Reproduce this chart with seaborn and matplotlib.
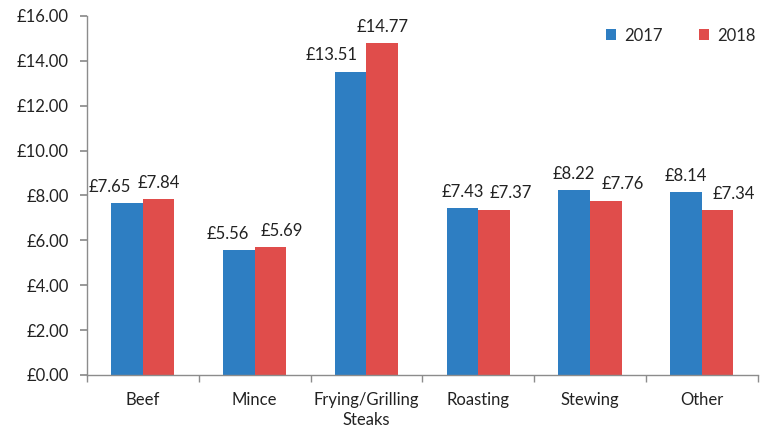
import matplotlib
matplotlib.use("Agg")
import matplotlib.pyplot as plt
import seaborn as sns
import pandas as pd
import numpy as np
from matplotlib.ticker import FixedLocator, FuncFormatter

categories = ["Beef", "Mince", "Frying/Grilling\nSteaks", "Roasting", "Stewing", "Other"]
values_2017 = [7.65, 5.56, 13.51, 7.43, 8.22, 8.14]
values_2018 = [7.84, 5.69, 14.77, 7.37, 7.76, 7.34]
years = ["2017", "2018"]
colors = ["#2E7EC2", "#E04D4B"]

# horizontal nudges (pixels) of value labels, as in the reference
label_shift = [[-17, -11, -19, 0, 0, 0], [0, 11, 0, 17, 17, 16]]

df = pd.DataFrame({
    "cat": categories * 2,
    "year": [years[0]] * len(categories) + [years[1]] * len(categories),
    "price": values_2017 + values_2018,
})

sns.set_theme(style="white")
plt.rcParams["font.family"] = ["Lato", "DejaVu Sans"]

fig = plt.figure(figsize=(7.74, 4.29), dpi=100)
ax = fig.add_axes([0.1124, 0.126, 0.979 - 0.1124, 0.963 - 0.126])

sns.barplot(data=df, x="cat", y="price", hue="year", palette=colors,
            width=0.565, saturation=1, linewidth=0, ax=ax, legend=True)

ax.set_ylim(0, 16)
ax.set_xlim(-0.5, len(categories) - 0.5)
ax.set_yticks(np.arange(0, 16.01, 2))
ax.yaxis.set_major_formatter(FuncFormatter(lambda v, p: f"£{v:.2f}"))
ax.set_xlabel("")
ax.set_ylabel("")

for ci, cont in enumerate(ax.containers):
    for bi, (bar, v) in enumerate(zip(cont.patches, cont.datavalues)):
        x = bar.get_x() + bar.get_width() / 2
        ax.annotate(f"£{v:.2f}", xy=(x, bar.get_height()),
                    xytext=(label_shift[ci][bi] * 0.72, 6),
                    textcoords="offset points", ha="center", va="bottom",
                    fontsize=12, color="#222222")

for s in ["top", "right"]:
    ax.spines[s].set_visible(False)
for s in ["left", "bottom"]:
    ax.spines[s].set_color("#8c8c8c")
    ax.spines[s].set_linewidth(1)

ax.tick_params(axis="y", which="major", left=True, length=5, color="#8c8c8c",
               labelsize=12, labelcolor="#222222", pad=8)
ax.tick_params(axis="x", which="major", bottom=False, labelsize=12,
               labelcolor="#222222", pad=6)
for lbl in ax.get_xticklabels():
    lbl.set_linespacing(1.35)
ax.xaxis.set_minor_locator(FixedLocator(np.arange(-0.5, len(categories), 1.0)))
ax.tick_params(axis="x", which="minor", bottom=True, length=5, color="#8c8c8c")

leg = ax.legend(loc="upper right", bbox_to_anchor=(1.015, 1.0), frameon=False,
                fontsize=12, ncol=2, handlelength=0.6, handleheight=0.6,
                handletextpad=0.5, columnspacing=2.2, borderaxespad=0.3)

fig.savefig("out.png", dpi=100)
